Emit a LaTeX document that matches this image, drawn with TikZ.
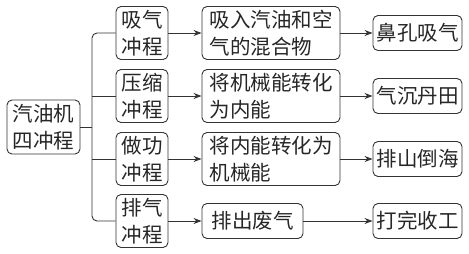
\documentclass[tikz,border=0pt]{standalone}
\usepackage{fontspec}
\newfontfamily\cjk{Noto Sans CJK SC}
\usetikzlibrary{arrows.meta}
\tikzset{
  base box/.style={
    draw=black!80,
    line width=0.9pt,
    rounded corners=5pt,
    inner sep=0pt,
    align=left,
    text=black!85,
    font=\cjk\fontsize{20.5}{27}\selectfont
  },
  root box/.style={base box, minimum width=73pt, minimum height=54pt},
  stroke box/.style={base box, minimum width=52pt, minimum height=53pt},
  note box/.style={base box, minimum width=138pt, minimum height=53pt},
  short box/.style={base box, minimum width=101pt, minimum height=35pt},
  end box/.style={base box, minimum width=89pt, minimum height=35pt},
  link/.style={
    draw=black!80,
    line width=0.9pt
  },
  flow/.style={
    link,
    -{Stealth[length=8pt, width=6pt]}
  }
}

\begin{document}
\begin{tikzpicture}[x=1pt, y=-1pt]
    % 画布：按参考图像素，y 轴向下
    \useasboundingbox (0,0) rectangle (469,254);

    % 总框
    \node[root box] (engine) at (43.5,127) {汽油机\\四冲程};
    \coordinate (trunk) at (92,127);

    % 四个冲程
    \node[stroke box] (intake) at (142,33) {吸气\\冲程};
    \node[stroke box] (compress) at (142,96) {压缩\\冲程};
    \node[stroke box] (power) at (142,159) {做功\\冲程};
    \node[stroke box] (exhaust) at (142,221) {排气\\冲程};

    % 说明
    \node[note box] (intakenote) at (271,33) {吸入汽油和空\\气的混合物};
    \node[note box] (compressnote) at (271,96) {将机械能转化\\为内能};
    \node[note box] (powernote) at (271,159) {将内能转化为\\机械能};
    \node[short box] (exhaustnote) at (252.5,221) {排出废气};

    % 口诀
    \node[end box] (intakeend) at (417.5,33) {鼻孔吸气};
    \node[end box] (compressend) at (417.5,96) {气沉丹田};
    \node[end box] (powerend) at (417.5,159) {排山倒海};
    \node[end box] (exhaustend) at (417.5,221) {打完收工};

    % 分支线
    \draw[link] (engine.east) -- (trunk);
    \draw[link, rounded corners=5pt] (intake.west) -| (trunk) |- (exhaust.west);
    \draw[link] (trunk |- compress.west) -- (compress.west);
    \draw[link] (trunk |- power.west) -- (power.west);

    % 箭头
    \foreach \s in {intake, compress, power, exhaust} {
      \draw[flow] (\s.east) -- (\s note.west);
      \draw[flow] (\s note.east) -- (\s end.west);
    }

\end{tikzpicture}
\end{document}
